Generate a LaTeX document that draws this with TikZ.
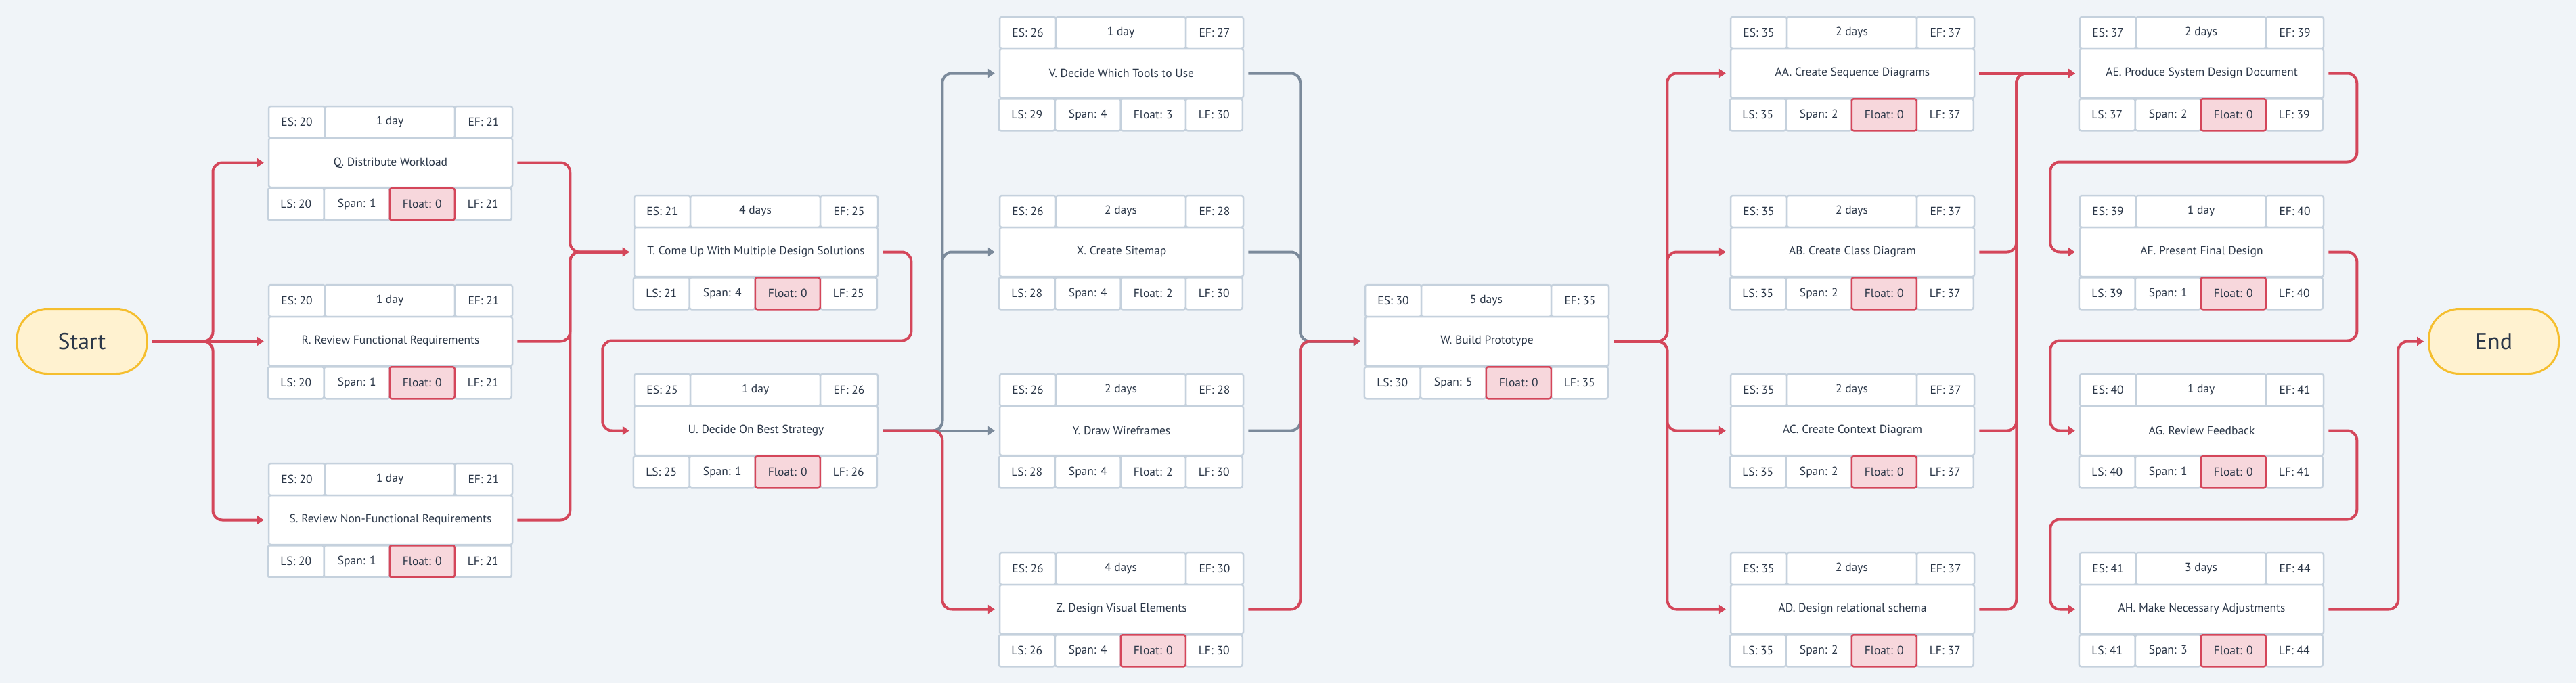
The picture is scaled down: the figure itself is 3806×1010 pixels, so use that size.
\documentclass[tikz,border=0pt]{standalone}
\usepackage{fontspec}
\setmainfont{PT Sans}
\usepackage{tikz}
\usetikzlibrary{arrows.meta}
\definecolor{page bg}{HTML}{F0F4F8}
\definecolor{cell line}{HTML}{C5D1DD}
\definecolor{ink}{HTML}{2B3748}
\definecolor{pert red}{HTML}{D4465A}
\definecolor{pert pink}{HTML}{F7D7DC}
\definecolor{pert slate}{HTML}{7B8A9B}
\definecolor{sun fill}{HTML}{FFF2D0}
\definecolor{sun line}{HTML}{F5BE2E}

\tikzset{
	cell/.style = {draw=cell line, fill=white, line width=2.5pt, rounded corners=3pt,
		inner sep=0pt, minimum height=47pt, text=ink, font=\fontsize{17.5}{20}\selectfont},
	critcell/.style = {cell, draw=pert red, fill=pert pink},
	floatcell/.code = {\ifnum#1=0 \pgfkeysalso{critcell}\else\pgfkeysalso{cell}\fi},
	terminal/.style = {draw=sun line, fill=sun fill, line width=3pt, rounded corners=45pt,
		minimum width=192pt, minimum height=96pt, text=ink, font=\fontsize{34}{40}\selectfont},
	crit/.style = {draw=pert red, line width=4pt, rounded corners=14pt,
		shorten <=6pt, shorten >=6pt, -{Triangle[length=10pt,width=13pt]}},
	slack/.style = {crit, draw=pert slate}
}

% top half of an activity: name, top left corner, ES, duration, EF, title
\newcommand{\taskhead}[6]{%
	\begin{scope}[shift={(#2)}]
		\node[cell, minimum width=83pt] (#1-es) at (41.5,23.5) {ES: #3};
		\node[cell, minimum width=192pt] (#1-dur) at (179,23.5) {#4};
		\node[cell, minimum width=85pt] (#1-ef) at (317.5,23.5) {EF: #5};
		\node[cell, minimum width=360pt, minimum height=73pt] (#1-main) at (180,83.5) {#6};
	\end{scope}}
% bottom row of an activity: name, LS, span, float, LF
\newcommand{\taskfoot}[5]{%
	\node[cell, minimum width=83pt] (#1-ls) at ([shift={(41.5,23.5)}]#1-main.south west) {LS: #2};
	\node[cell, minimum width=97pt] (#1-span) at ([shift={(131.5,23.5)}]#1-main.south west) {Span: #3};
	\node[cell, minimum width=84pt] (#1-lf) at ([shift={(318,23.5)}]#1-main.south west) {LF: #5};
	\node[floatcell=#4, minimum width=96pt] (#1-float) at ([shift={(228,23.5)}]#1-main.south west) {Float: #4};}

\begin{document}
\begin{tikzpicture}[x=1pt, y=-1pt]
			\fill[page bg] (0,0) rectangle (3806,1010);
			% start and end
			\node[terminal] (start) at (121,504.5) {Start};
			\node[terminal] (end) at (3684.5,504.5) {End};
			% first column
			\taskhead{q}{397,157}{20}{1 day}{21}{Q. Distribute Workload}
			\taskfoot{q}{20}{1}{0}{21}
			\taskhead{r}{397,421}{20}{1 day}{21}{R. Review Functional Requirements}
			\taskfoot{r}{20}{1}{0}{21}
			\taskhead{s}{397,685}{20}{1 day}{21}{S. Review Non-Functional Requirements}
			\taskfoot{s}{20}{1}{0}{21}
			% second column
			\taskhead{t}{937,289}{21}{4 days}{25}{T. Come Up With Multiple Design Solutions}
			\taskfoot{t}{21}{4}{0}{25}
			\taskhead{u}{937,553}{25}{1 day}{26}{U. Decide On Best Strategy}
			\taskfoot{u}{25}{1}{0}{26}
			% third column
			\taskhead{v}{1477,25}{26}{1 day}{27}{V. Decide Which Tools to Use}
			\taskfoot{v}{29}{4}{3}{30}
			\taskhead{x}{1477,289}{26}{2 days}{28}{X. Create Sitemap}
			\taskfoot{x}{28}{4}{2}{30}
			\taskhead{y}{1477,553}{26}{2 days}{28}{Y. Draw Wireframes}
			\taskfoot{y}{28}{4}{2}{30}
			\taskhead{z}{1477,817}{26}{4 days}{30}{Z. Design Visual Elements}
			\taskfoot{z}{26}{4}{0}{30}
			% prototype
			\taskhead{w}{2017,421}{30}{5 days}{35}{W. Build Prototype}
			\taskfoot{w}{30}{5}{0}{35}
			% diagrams
			\taskhead{aa}{2557,25}{35}{2 days}{37}{AA. Create Sequence Diagrams}
			\taskfoot{aa}{35}{2}{0}{37}
			\taskhead{ab}{2557,289}{35}{2 days}{37}{AB. Create Class Diagram}
			\taskfoot{ab}{35}{2}{0}{37}
			\taskhead{ac}{2557,553}{35}{2 days}{37}{AC. Create Context Diagram}
			\taskfoot{ac}{35}{2}{0}{37}
			\taskhead{ad}{2557,817}{35}{2 days}{37}{AD. Design relational schema}
			\taskfoot{ad}{35}{2}{0}{37}
			% last column
			\taskhead{ae}{3073,25}{37}{2 days}{39}{AE. Produce System Design Document}
			\taskfoot{ae}{37}{2}{0}{39}
			\taskhead{af}{3073,289}{39}{1 day}{40}{AF. Present Final Design}
			\taskfoot{af}{39}{1}{0}{40}
			\taskhead{ag}{3073,553}{40}{1 day}{41}{AG. Review Feedback}
			\taskfoot{ag}{40}{1}{0}{41}
			\taskhead{ah}{3073,817}{41}{3 days}{44}{AH. Make Necessary Adjustments}
			\taskfoot{ah}{41}{3}{0}{44}
			% links with slack
			\draw[slack] (u-main.east) -- ++(94,0) |- (v-main.west);
			\draw[slack] (u-main.east) -- ++(94,0) |- (x-main.west);
			\draw[slack] (u-main.east) -- (y-main.west);
			\draw[slack] (v-main.east) -- ++(83,0) |- (w-main.west);
			\draw[slack] (x-main.east) -- ++(83,0) |- (w-main.west);
			\draw[slack] (y-main.east) -- ++(83,0) |- (w-main.west);
			% critical path
			\draw[crit] (start.east) -- ++(96,0) |- (q-main.west);
			\draw[crit] (start.east) -- (r-main.west);
			\draw[crit] (start.east) -- ++(96,0) |- (s-main.west);
			\draw[crit] (q-main.east) -- ++(84,0) |- (t-main.west);
			\draw[crit] (r-main.east) -- ++(84,0) |- (t-main.west);
			\draw[crit] (s-main.east) -- ++(84,0) |- (t-main.west);
			\draw[crit] (t-main.east) -- ++(48,0) -- ++(0,131) -- ++(-456,0) |- (u-main.west);
			\draw[crit] (u-main.east) -- ++(94,0) |- (z-main.west);
			\draw[crit] (z-main.east) -- ++(83,0) |- (w-main.west);
			\draw[crit] (w-main.east) -- ++(85,0) |- (aa-main.west);
			\draw[crit] (w-main.east) -- ++(85,0) |- (ab-main.west);
			\draw[crit] (w-main.east) -- ++(85,0) |- (ac-main.west);
			\draw[crit] (w-main.east) -- ++(85,0) |- (ad-main.west);
			\draw[crit] (aa-main.east) -- (ae-main.west);
			\draw[crit] (ab-main.east) -- ++(61,0) |- (ae-main.west);
			\draw[crit] (ac-main.east) -- ++(61,0) |- (ae-main.west);
			\draw[crit] (ad-main.east) -- ++(61,0) |- (ae-main.west);
			\draw[crit] (ae-main.east) -- ++(48,0) -- ++(0,131) -- ++(-453,0) |- (af-main.west);
			\draw[crit] (af-main.east) -- ++(48,0) -- ++(0,131) -- ++(-453,0) |- (ag-main.west);
			\draw[crit] (ag-main.east) -- ++(48,0) -- ++(0,131) -- ++(-453,0) |- (ah-main.west);
			\draw[crit] (ah-main.east) -- ++(109,0) |- (end.west);
		\end{tikzpicture}
\end{document}
